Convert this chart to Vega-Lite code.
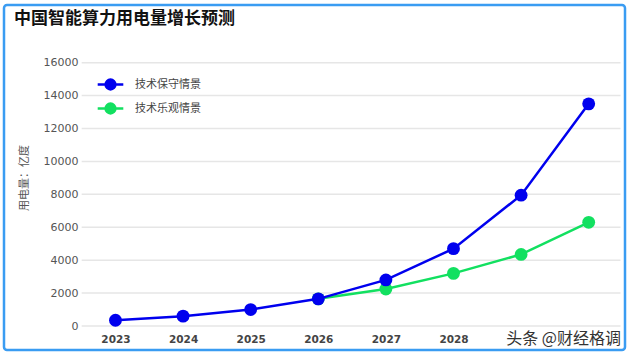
{
  "$schema": "https://vega.github.io/schema/vega-lite/v6.json",
  "width": 621,
  "height": 345,
  "autosize": {"type": "none"},
  "padding": {"left": 4, "top": 5, "right": 6, "bottom": 7},
  "background": "#ffffff",
  "config": {
    "view": {"stroke": "#3a9cf2", "strokeWidth": 2.5, "cornerRadius": 3, "fill": "#ffffff"},
    "font": "Noto Sans CJK SC"
  },
  "datasets": {
    "series": [
      {"year": 2023, "scenario": "技术保守情景", "value": 350},
      {"year": 2024, "scenario": "技术保守情景", "value": 600},
      {"year": 2025, "scenario": "技术保守情景", "value": 1000},
      {"year": 2026, "scenario": "技术保守情景", "value": 1650},
      {"year": 2027, "scenario": "技术保守情景", "value": 2800},
      {"year": 2028, "scenario": "技术保守情景", "value": 4700},
      {"year": 2029, "scenario": "技术保守情景", "value": 7950},
      {"year": 2030, "scenario": "技术保守情景", "value": 13500},
      {"year": 2026, "scenario": "技术乐观情景", "value": 1650},
      {"year": 2027, "scenario": "技术乐观情景", "value": 2250},
      {"year": 2028, "scenario": "技术乐观情景", "value": 3200},
      {"year": 2029, "scenario": "技术乐观情景", "value": 4350},
      {"year": 2030, "scenario": "技术乐观情景", "value": 6300}
    ],
    "grid": [
      {"value": 0}, {"value": 2000}, {"value": 4000}, {"value": 6000}, {"value": 8000},
      {"value": 10000}, {"value": 12000}, {"value": 14000}, {"value": 16000}
    ],
    "mark": [
      {"label": "头条 @财经格调"}
    ],
    "title": [
      {"label": "中国智能算力用电量增长预测"}
    ]
  },
  "layer": [
    {
      "data": {"name": "grid"},
      "mark": {"type": "rule", "color": "#e6e6e6", "strokeWidth": 1.5},
      "encoding": {
        "y": {"field": "value", "type": "quantitative"},
        "x": {"datum": 2022.5, "type": "quantitative"},
        "x2": {"datum": 2030.47}
      }
    },
    {
      "data": {"name": "series"},
      "transform": [{"filter": "datum.scenario === '技术乐观情景'"}],
      "mark": {"type": "line", "strokeWidth": 2.5},
      "encoding": {
        "x": {"field": "year", "type": "quantitative"},
        "y": {"field": "value", "type": "quantitative"},
        "color": {"field": "scenario", "type": "nominal"}
      }
    },
    {
      "data": {"name": "series"},
      "transform": [{"filter": "datum.scenario === '技术乐观情景'"}],
      "mark": {"type": "point", "filled": true, "opacity": 1, "size": 165},
      "encoding": {
        "x": {"field": "year", "type": "quantitative"},
        "y": {"field": "value", "type": "quantitative"},
        "color": {"field": "scenario", "type": "nominal"}
      }
    },
    {
      "data": {"name": "series"},
      "transform": [{"filter": "datum.scenario === '技术保守情景'"}],
      "mark": {"type": "line", "strokeWidth": 2.5},
      "encoding": {
        "x": {"field": "year", "type": "quantitative"},
        "y": {"field": "value", "type": "quantitative"},
        "color": {"field": "scenario", "type": "nominal"}
      }
    },
    {
      "data": {"name": "series"},
      "transform": [{"filter": "datum.scenario === '技术保守情景'"}],
      "mark": {"type": "point", "filled": true, "opacity": 1, "size": 165},
      "encoding": {
        "x": {
          "field": "year",
          "type": "quantitative",
          "scale": {"domain": [2021.351, 2030.537], "nice": false, "zero": false},
          "axis": {
            "title": null,
            "values": [2023, 2024, 2025, 2026, 2027, 2028],
            "format": "d",
            "grid": false,
            "domain": false,
            "ticks": false,
            "offset": -19,
            "labelPadding": 3,
            "labelFont": "DejaVu Sans",
            "labelFontWeight": "bold",
            "labelFontSize": 10.5,
            "labelColor": "#444444"
          }
        },
        "y": {
          "field": "value",
          "type": "quantitative",
          "scale": {"domain": [-1458, 19506], "nice": false, "zero": false},
          "axis": {
            "title": "用电量：亿度",
            "titleFont": "Noto Sans CJK SC",
            "titleFontSize": 11,
            "titleFontWeight": "normal",
            "titleColor": "#555555",
            "titlePadding": 14,
            "values": [0, 2000, 4000, 6000, 8000, 10000, 12000, 14000, 16000],
            "format": "d",
            "grid": false,
            "domain": false,
            "ticks": false,
            "offset": -79,
            "labelPadding": 5,
            "labelFont": "DejaVu Sans",
            "labelFontSize": 11,
            "labelColor": "#555555"
          }
        },
        "color": {
          "field": "scenario",
          "type": "nominal",
          "scale": {"domain": ["技术保守情景", "技术乐观情景"], "range": ["#0000ee", "#12e060"]},
          "legend": {
            "title": null,
            "orient": "none",
            "legendX": 93,
            "legendY": 66,
            "padding": 0,
            "rowPadding": 0,
            "symbolType": "M-1.05,0H1.05M0.4,0A0.4,0.4,0,1,1,-0.4,0A0.4,0.4,0,1,1,0.4,0Z",
            "symbolSize": 595,
            "symbolStrokeWidth": 2.5,
            "labelOffset": 11,
            "labelFont": "Noto Sans CJK SC",
            "labelFontSize": 11,
            "labelColor": "#444444",
            "encode": {
              "symbols": {
                "update": {
                  "fill": {"scale": "color", "field": "value"},
                  "stroke": {"scale": "color", "field": "value"},
                  "opacity": {"value": 1}
                }
              }
            }
          }
        }
      }
    },
    {
      "data": {"name": "mark"},
      "mark": {"type": "text", "align": "right", "baseline": "middle", "dx": -4, "font": "Noto Sans CJK SC", "fontSize": 16, "color": "#333333"},
      "encoding": {
        "x": {"datum": 2030.537, "type": "quantitative"},
        "y": {"datum": -760, "type": "quantitative"},
        "text": {"field": "label"}
      }
    },
    {
      "data": {"name": "title"},
      "mark": {"type": "text", "align": "left", "baseline": "middle", "dx": 10, "font": "Noto Sans CJK SC", "fontSize": 17, "fontWeight": "bold", "color": "#111111"},
      "encoding": {
        "x": {"datum": 2021.351, "type": "quantitative"},
        "y": {"datum": 18656, "type": "quantitative"},
        "text": {"field": "label"}
      }
    }
  ]
}
